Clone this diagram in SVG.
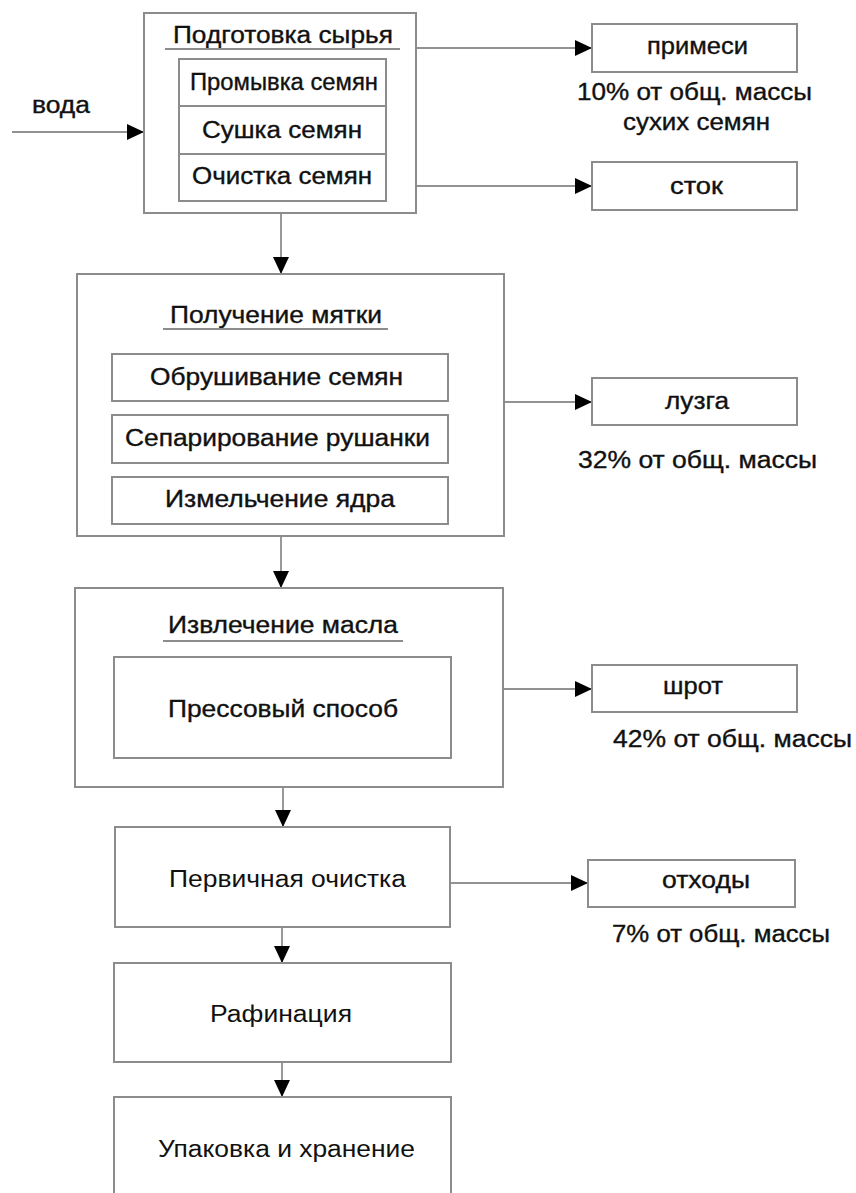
<svg xmlns="http://www.w3.org/2000/svg" width="856" height="1193" viewBox="0 0 856 1193">
<defs>
<style>
.box{fill:#fff;stroke:#8c8c8c;stroke-width:2}
.ln{fill:none;stroke:#6e6e6e;stroke-width:1.4}
.ul{fill:none;stroke:#8c8c8c;stroke-width:2}
.t{font-family:"Liberation Sans",Arial,sans-serif;font-size:23px;fill:#111;stroke:#111;stroke-width:0.35}
.tr{font-family:"Liberation Sans",Arial,sans-serif;font-size:23px;fill:#111}
</style>
<marker id="ah" markerWidth="17" markerHeight="16" refX="17" refY="8" orient="auto" markerUnits="userSpaceOnUse">
<path d="M0,0 L17,8 L0,16 Z" fill="#000"/>
</marker>
</defs>
<rect width="856" height="1193" fill="#fff"/>

<g id="connectors">
<line class="ln" x1="12" y1="132" x2="144" y2="132" marker-end="url(#ah)"/>
<line class="ln" x1="416" y1="48" x2="592" y2="48" marker-end="url(#ah)"/>
<line class="ln" x1="416" y1="186" x2="592" y2="186" marker-end="url(#ah)"/>
<line class="ln" x1="281" y1="213" x2="281" y2="274" marker-end="url(#ah)"/>
<line class="ln" x1="504" y1="402" x2="592" y2="402" marker-end="url(#ah)"/>
<line class="ln" x1="281" y1="536" x2="281" y2="588" marker-end="url(#ah)"/>
<line class="ln" x1="503" y1="689" x2="592" y2="689" marker-end="url(#ah)"/>
<line class="ln" x1="283" y1="787" x2="283" y2="827" marker-end="url(#ah)"/>
<line class="ln" x1="450" y1="883" x2="588" y2="883" marker-end="url(#ah)"/>
<line class="ln" x1="282" y1="927" x2="282" y2="963" marker-end="url(#ah)"/>
<line class="ln" x1="282" y1="1062" x2="282" y2="1097" marker-end="url(#ah)"/>
</g>

<g id="voda">
<text class="t" x="32" y="113" textLength="58" lengthAdjust="spacingAndGlyphs">вода</text>
</g>

<g id="podgotovka">
<rect class="box" x="144" y="13" width="272" height="200"/>
<text class="t" x="173" y="43" textLength="220" lengthAdjust="spacingAndGlyphs">Подготовка сырья</text>
<line class="ul" x1="165" y1="49" x2="400" y2="49"/>
<rect class="box" x="179" y="59" width="207" height="142"/>
<line class="ul" x1="179" y1="106" x2="386" y2="106"/>
<line class="ul" x1="179" y1="154" x2="386" y2="154"/>
<text class="t" x="190" y="90" textLength="188" lengthAdjust="spacingAndGlyphs">Промывка семян</text>
<text class="t" x="202" y="138" textLength="160" lengthAdjust="spacingAndGlyphs">Сушка семян</text>
<text class="t" x="192" y="184" textLength="180" lengthAdjust="spacingAndGlyphs">Очистка семян</text>
</g>

<g id="primesi">
<rect class="box" x="592" y="24" width="205" height="48"/>
<text class="t" x="647" y="54" textLength="101" lengthAdjust="spacingAndGlyphs">примеси</text>
<text class="t" x="577" y="100" textLength="235" lengthAdjust="spacingAndGlyphs">10% от общ. массы</text>
<text class="t" x="623" y="130" textLength="147" lengthAdjust="spacingAndGlyphs">сухих семян</text>
</g>

<g id="stok">
<rect class="box" x="592" y="162" width="205" height="48"/>
<text class="t" x="670" y="194" textLength="53" lengthAdjust="spacingAndGlyphs">сток</text>
</g>

<g id="myatka">
<rect class="box" x="77" y="274" width="427" height="262"/>
<text class="t" x="170" y="323" textLength="212" lengthAdjust="spacingAndGlyphs">Получение мятки</text>
<line class="ul" x1="163" y1="329" x2="388" y2="329"/>
<rect class="box" x="112" y="354" width="336" height="47"/>
<text class="t" x="150" y="385" textLength="253" lengthAdjust="spacingAndGlyphs">Обрушивание семян</text>
<rect class="box" x="112" y="415" width="336" height="48"/>
<text class="t" x="125" y="446" textLength="305" lengthAdjust="spacingAndGlyphs">Сепарирование рушанки</text>
<rect class="box" x="112" y="477" width="336" height="47"/>
<text class="t" x="165" y="507" textLength="230" lengthAdjust="spacingAndGlyphs">Измельчение ядра</text>
</g>

<g id="luzga">
<rect class="box" x="592" y="378" width="205" height="47"/>
<text class="t" x="665" y="409" textLength="64" lengthAdjust="spacingAndGlyphs">лузга</text>
<text class="t" x="578" y="468" textLength="239" lengthAdjust="spacingAndGlyphs">32% от общ. массы</text>
</g>

<g id="izvlechenie">
<rect class="box" x="75" y="588" width="428" height="199"/>
<text class="t" x="168" y="633" textLength="230" lengthAdjust="spacingAndGlyphs">Извлечение масла</text>
<line class="ul" x1="163" y1="641" x2="403" y2="641"/>
<rect class="box" x="114" y="657" width="337" height="101"/>
<text class="t" x="168" y="717" textLength="230" lengthAdjust="spacingAndGlyphs">Прессовый способ</text>
</g>

<g id="shrot">
<rect class="box" x="592" y="665" width="205" height="47"/>
<text class="t" x="663" y="694" textLength="60" lengthAdjust="spacingAndGlyphs">шрот</text>
<text class="t" x="613" y="747" textLength="239" lengthAdjust="spacingAndGlyphs">42% от общ. массы</text>
</g>

<g id="pervichnaya">
<rect class="box" x="115" y="827" width="335" height="100"/>
<text class="tr" x="169" y="887" textLength="237" lengthAdjust="spacingAndGlyphs">Первичная очистка</text>
</g>

<g id="othody">
<rect class="box" x="588" y="860" width="207" height="47"/>
<text class="t" x="662" y="888" textLength="88" lengthAdjust="spacingAndGlyphs">отходы</text>
<text class="t" x="612" y="942" textLength="218" lengthAdjust="spacingAndGlyphs">7% от общ. массы</text>
</g>

<g id="rafinaciya">
<rect class="box" x="114" y="963" width="337" height="99"/>
<text class="tr" x="210" y="1022" textLength="142" lengthAdjust="spacingAndGlyphs">Рафинация</text>
</g>

<g id="upakovka">
<rect class="box" x="114" y="1097" width="337" height="110"/>
<text class="tr" x="158" y="1157" textLength="257" lengthAdjust="spacingAndGlyphs">Упаковка и хранение</text>
</g>
</svg>
